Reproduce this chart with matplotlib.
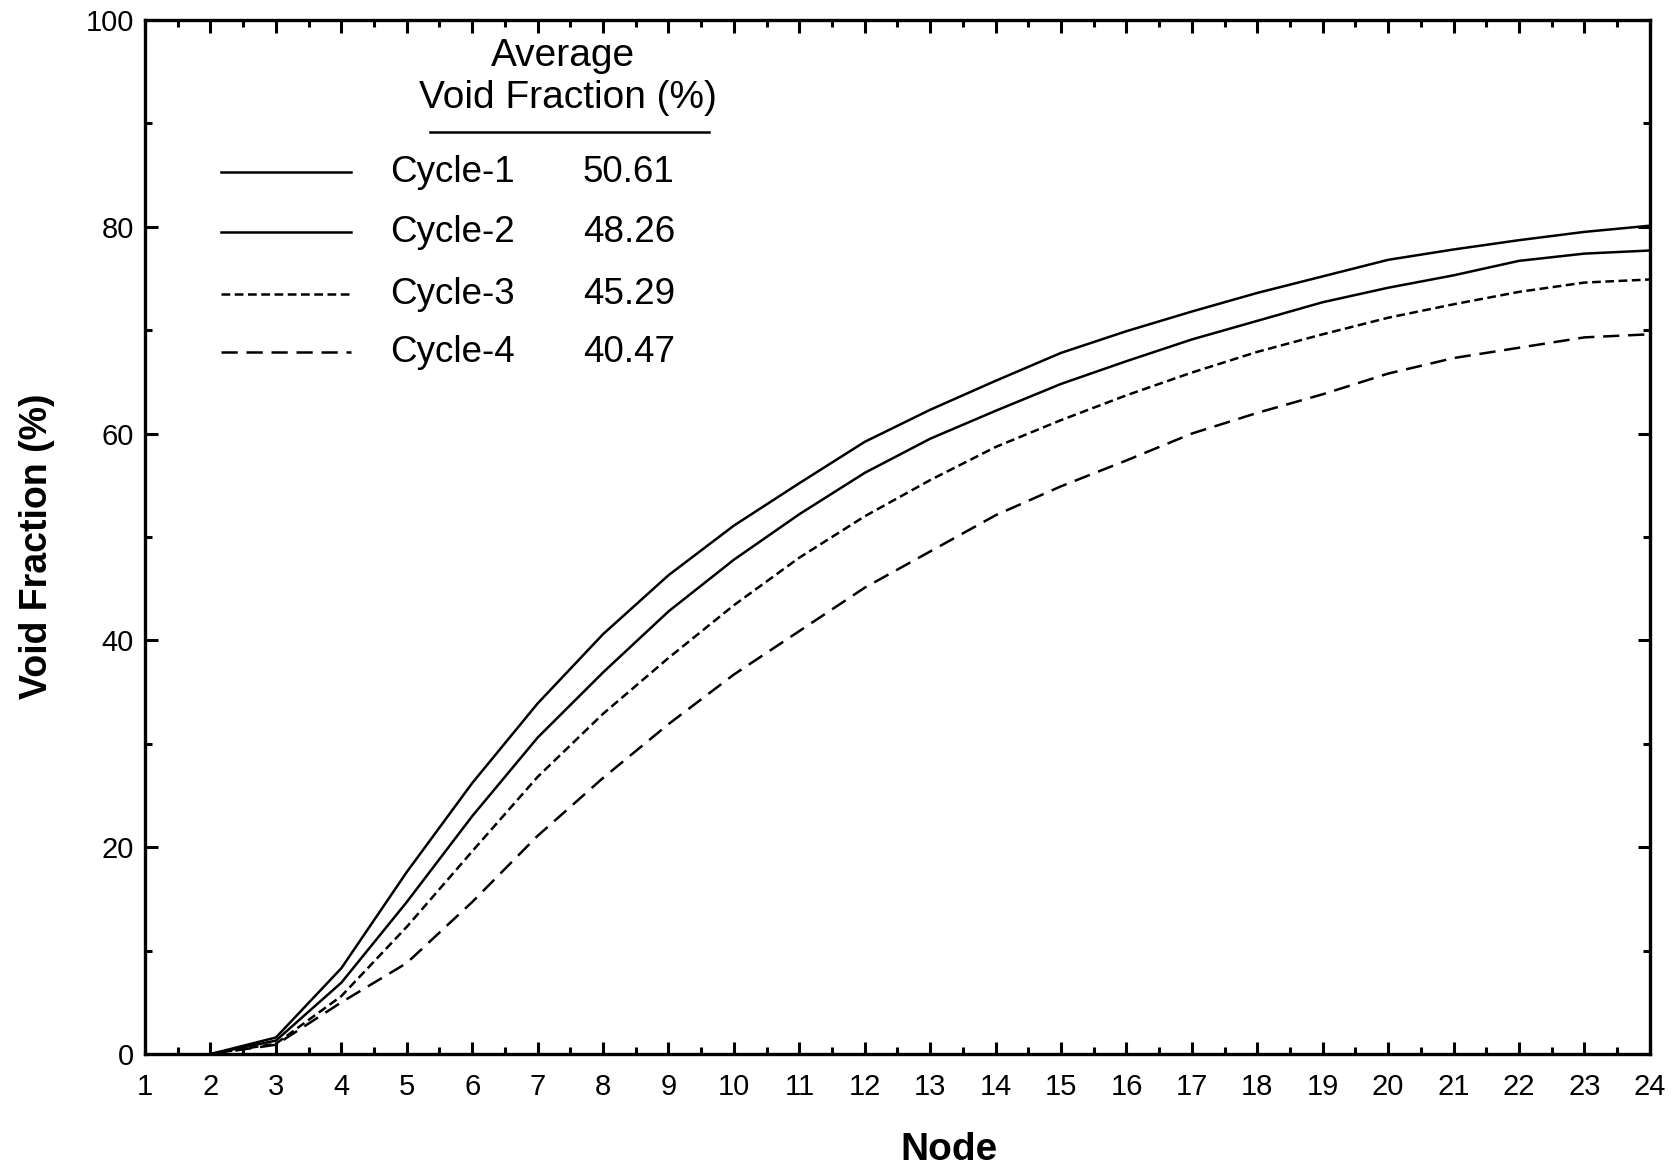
import numpy as np
import matplotlib
matplotlib.use('Agg')
import matplotlib.pyplot as plt
from matplotlib.lines import Line2D
from matplotlib.ticker import MultipleLocator

plt.rcParams['font.family'] = ['Liberation Sans', 'DejaVu Sans']

# void fraction along the channel, one curve per cycle
nodes = np.arange(2, 25)
cycle1 = [0.0, 1.6, 8.3, 17.6, 26.2, 33.9, 40.6, 46.3, 51.1, 55.2, 59.2, 62.3,
          65.1, 67.8, 69.9, 71.8, 73.6, 75.2, 76.8, 77.8, 78.7, 79.5, 80.1]
cycle2 = [0.0, 1.3, 6.9, 14.7, 23.0, 30.6, 36.9, 42.8, 47.8, 52.2, 56.2, 59.5,
          62.2, 64.8, 67.0, 69.1, 70.9, 72.7, 74.1, 75.3, 76.7, 77.4, 77.7]
cycle3 = [0.0, 1.0, 5.6, 12.3, 19.6, 26.8, 32.9, 38.3, 43.4, 48.0, 52.0, 55.5,
          58.7, 61.3, 63.7, 65.9, 67.9, 69.6, 71.2, 72.5, 73.7, 74.6, 74.9]
cycle4 = [0.0, 0.9, 5.0, 8.8, 14.7, 21.1, 26.7, 31.9, 36.7, 40.9, 45.1, 48.6,
          52.1, 54.9, 57.4, 60.0, 62.0, 63.8, 65.8, 67.3, 68.3, 69.3, 69.6]

names = ['Cycle-1', 'Cycle-2', 'Cycle-3', 'Cycle-4']
averages = ['50.61', '48.26', '45.29', '40.47']
styles = ['-', '-', (0, (3.5, 1.8)), (0, (6.5, 3.5))]
lw = 1.8

fig = plt.figure(figsize=(16.75, 11.7), dpi=100)
ax = fig.add_axes([0.0866, 0.0991, 0.8984, 0.8839])

for y, ls in zip([cycle1, cycle2, cycle3, cycle4], styles):
    ax.plot(nodes, y, color='black', lw=lw, linestyle=ls)

ax.set_xlim(1, 24)
ax.set_ylim(0, 100)
ax.xaxis.set_major_locator(MultipleLocator(1))
ax.xaxis.set_minor_locator(MultipleLocator(0.5))
ax.yaxis.set_major_locator(MultipleLocator(20))
ax.yaxis.set_minor_locator(MultipleLocator(10))
ax.tick_params(which='both', direction='in', top=True, right=True,
               width=2.2, labelsize=21)
ax.tick_params(which='major', length=9)
ax.tick_params(which='minor', length=5)
ax.tick_params(axis='x', pad=14)
ax.tick_params(axis='y', pad=8)
for s in ax.spines.values():
    s.set_linewidth(2.4)

def px(x, y):
    return x / 1675, 1 - y / 1170

tx, ty = px(949, 1150)
fig.text(tx, ty, 'Node', fontsize=28, fontweight='bold', ha='center', va='center')
tx, ty = px(37, 546)
fig.text(tx, ty, 'Void Fraction (%)', fontsize=27, fontweight='bold',
         ha='center', va='center', rotation=90)

# hand-built key with the average value column
tx, ty = px(563, 56)
fig.text(tx, ty, 'Average', fontsize=28, ha='center', va='center')
tx, ty = px(568, 98)
fig.text(tx, ty, 'Void Fraction (%)', fontsize=28, ha='center', va='center')
x0, yl = px(430, 132)
x1, _ = px(709, 132)
fig.add_artist(Line2D([x0, x1], [yl, yl], color='black', lw=1.8))

rows_y = [172, 232, 294, 352]
for name, avg, ls, ry in zip(names, averages, styles, rows_y):
    a, b = px(221, ry)
    c, _ = px(351, ry)
    fig.add_artist(Line2D([a, c], [b, b], color='black', lw=lw, linestyle=ls))
    tx, _ = px(390, ry)
    fig.text(tx, b, name, fontsize=26.5, ha='left', va='center')
    tx, _ = px(583, ry)
    fig.text(tx, b, avg, fontsize=26.5, ha='left', va='center')

fig.savefig('out.png', dpi=100)
